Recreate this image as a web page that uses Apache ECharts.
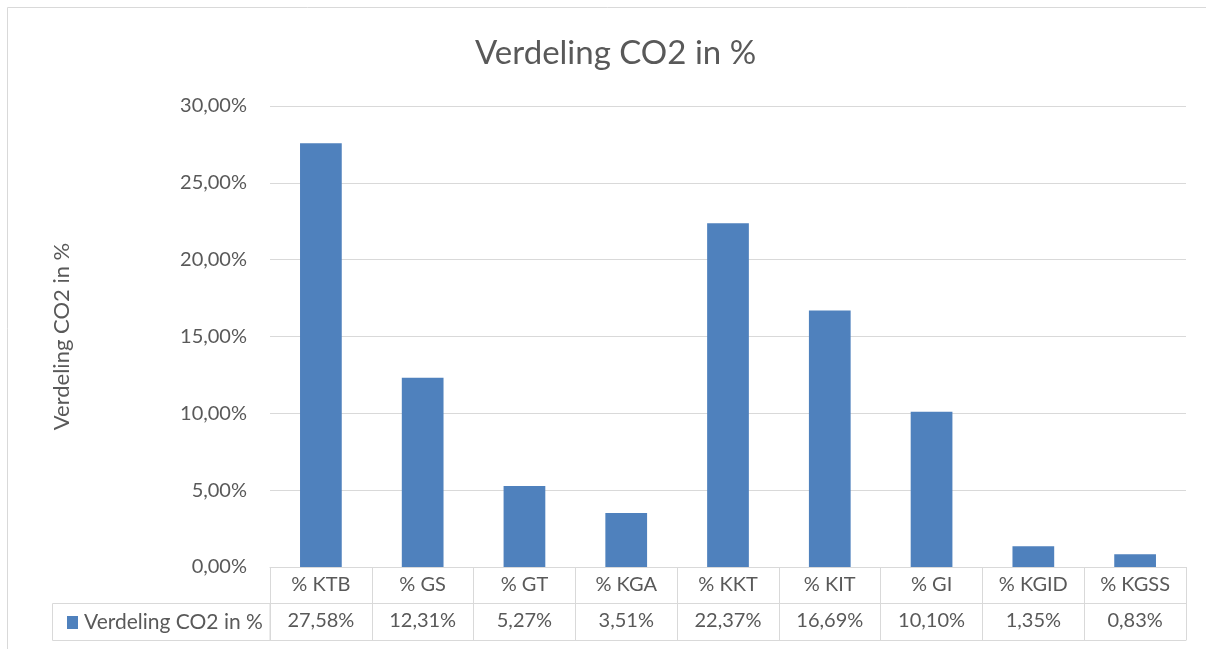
<!DOCTYPE html>
<html lang="nl">

<head>
  <meta charset="UTF-8">
  <title>Verdeling CO2 in %</title>
  <script src="https://cdn.jsdelivr.net/npm/echarts@6/dist/echarts.min.js"></script>
  <style>
    body { margin: 0; background: #fff; }
  </style>
</head>

<body>
  <div id="chart" style="width: 1206px; height: 649px"></div>

  <script>
    let categories = ['% KTB', '% GS', '% GT', '% KGA', '% KKT', '% KIT', '% GI', '% KGID', '% KGSS']
    let values = [27.58, 12.31, 5.27, 3.51, 22.37, 16.69, 10.10, 1.35, 0.83]
    let seriesName = 'Verdeling CO2 in %'

    let textColor = '#595959'
    let lineColor = '#d9d9d9'
    let font = 'Lato'

    // 27.58 -> "27,58%"
    let pct = v => v.toFixed(2).replace('.', ',') + '%'

    let myChart = echarts.init(document.getElementById('chart'))
    let option = {
      textStyle: { fontFamily: font },
      title: {
        text: 'Verdeling CO2 in %',
        left: 470,
        top: 32,
        textStyle: { fontSize: 33, fontWeight: 'normal', color: textColor, fontFamily: font }
      },
      legend: {
        left: 62,
        top: 607,
        itemWidth: 11,
        itemHeight: 13,
        itemGap: 6,
        icon: 'rect',
        textStyle: { fontSize: 21, color: textColor, fontFamily: font, padding: [0, 0, 0, 1] },
        data: [seriesName]
      },
      grid: { left: 270, right: 20, top: 106, bottom: 82 },
      // frame of the chart and the legend cell of the data table
      graphic: [{
        type: 'rect',
        shape: { x: 7.5, y: 7.5, width: 1230, height: 680 },
        style: { fill: 'none', stroke: lineColor, lineWidth: 1 },
        silent: true
      }, {
        type: 'rect',
        shape: { x: 52.5, y: 603.5, width: 217.5, height: 37 },
        style: { fill: 'none', stroke: lineColor, lineWidth: 1 },
        silent: true
      }],
      xAxis: [{
        type: 'category',
        data: categories,
        axisLine: { lineStyle: { color: lineColor } },
        axisTick: { show: true, length: 73, interval: 0, lineStyle: { color: lineColor } },
        axisLabel: { interval: 0, margin: 8, fontSize: 20, color: textColor }
      }, {
        type: 'category',
        data: categories,
        position: 'bottom',
        offset: 36,
        axisLine: { show: true, lineStyle: { color: lineColor } },
        axisTick: { show: false },
        axisLabel: {
          interval: 0, margin: 8, fontSize: 20, color: textColor,
          formatter: (v, i) => pct(values[i])
        }
      }, {
        type: 'category',
        data: categories,
        position: 'bottom',
        offset: 73,
        axisLine: { show: true, lineStyle: { color: lineColor } },
        axisTick: { show: false },
        axisLabel: { show: false }
      }],
      yAxis: {
        type: 'value',
        min: 0,
        max: 30,
        interval: 5,
        name: 'Verdeling CO2 in %',
        nameLocation: 'middle',
        nameGap: 197,
        nameTextStyle: { fontSize: 22, color: textColor },
        axisLine: { show: false },
        axisTick: { show: false },
        axisLabel: { fontSize: 20, color: textColor, margin: 23, formatter: v => pct(v) },
        splitLine: { lineStyle: { color: lineColor } }
      },
      series: [{
        type: 'bar',
        name: seriesName,
        data: values,
        barWidth: '41%',
        itemStyle: { color: '#4f81bd' }
      }]
    }
    myChart.setOption(option)
  </script>
</body>

</html>
